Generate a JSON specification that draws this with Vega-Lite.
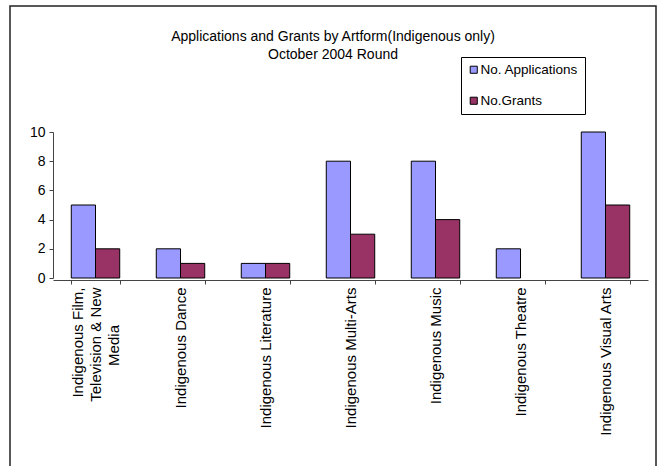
{
  "$schema": "https://vega.github.io/schema/vega-lite/v6.json",
  "autosize": "none",
  "padding": {"left": 10, "top": 6, "right": 5, "bottom": -2},
  "width": 646,
  "height": 462,
  "background": "white",
  "title": {
    "text": ["Applications and Grants by Artform(Indigenous only)", "October 2004 Round"],
    "fontSize": 14,
    "fontWeight": "normal",
    "color": "black",
    "anchor": "middle",
    "frame": "group",
    "lineHeight": 18,
    "dy": 60
  },
  "data": {
    "values": [
      {"artform": "Indigenous Film, Television & New Media", "series": "No. Applications", "count": 5},
      {"artform": "Indigenous Film, Television & New Media", "series": "No.Grants", "count": 2},
      {"artform": "Indigenous Dance", "series": "No. Applications", "count": 2},
      {"artform": "Indigenous Dance", "series": "No.Grants", "count": 1},
      {"artform": "Indigenous Literature", "series": "No. Applications", "count": 1},
      {"artform": "Indigenous Literature", "series": "No.Grants", "count": 1},
      {"artform": "Indigenous Multi-Arts", "series": "No. Applications", "count": 8},
      {"artform": "Indigenous Multi-Arts", "series": "No.Grants", "count": 3},
      {"artform": "Indigenous Music", "series": "No. Applications", "count": 8},
      {"artform": "Indigenous Music", "series": "No.Grants", "count": 4},
      {"artform": "Indigenous Theatre", "series": "No. Applications", "count": 2},
      {"artform": "Indigenous Visual Arts", "series": "No. Applications", "count": 10},
      {"artform": "Indigenous Visual Arts", "series": "No.Grants", "count": 5}
    ]
  },
  "mark": {"type": "bar", "stroke": "black", "strokeWidth": 1},
  "encoding": {
    "x": {
      "field": "artform",
      "type": "nominal",
      "sort": null,
      "scale": {"range": [43, 638], "paddingInner": 0.43, "paddingOuter": 0.215},
      "axis": {
        "title": null,
        "offset": -188,
        "labelAngle": -90,
        "labelFontSize": 15,
        "labelLineHeight": 18,
        "labelColor": "black",
        "labelLimit": 0,
        "labelPadding": 3,
        "labelOffset": {"expr": "datum.value == 'Indigenous Film, Television & New Media' ? -18 : 0"},
        "tickBand": "extent",
        "tickSize": 4,
        "tickColor": "#444",
        "domainColor": "#444",
        "labelExpr": "datum.value == 'Indigenous Film, Television & New Media' ? ['Indigenous Film,', 'Television & New', 'Media\u00a0\u00a0\u00a0\u00a0\u00a0\u00a0\u00a0\u00a0\u00a0\u200b'] : datum.label"
      }
    },
    "xOffset": {"field": "series", "type": "nominal", "sort": ["No. Applications", "No.Grants"]},
    "y": {
      "field": "count",
      "type": "quantitative",
      "scale": {"domain": [0, 10], "range": [272, 126], "nice": false},
      "axis": {
        "title": null,
        "offset": -43,
        "values": [0, 2, 4, 6, 8, 10],
        "grid": false,
        "labelFontSize": 14,
        "labelColor": "black",
        "labelPadding": 4,
        "tickSize": 4,
        "tickColor": "#444",
        "domainColor": "#444"
      }
    },
    "color": {
      "field": "series",
      "type": "nominal",
      "scale": {"domain": ["No. Applications", "No.Grants"], "range": ["#9999FF", "#993366"]},
      "legend": {
        "title": null,
        "orient": "none",
        "legendX": 451,
        "legendY": 51,
        "strokeColor": "black",
        "fillColor": "white",
        "padding": 6,
        "symbolType": "square",
        "symbolSize": 50,
        "symbolStrokeColor": "black",
        "symbolStrokeWidth": 1,
        "symbolOpacity": 1,
        "labelFontSize": 13.5,
        "labelColor": "black",
        "labelOffset": 0,
        "rowPadding": 16
      }
    }
  },
  "config": {
    "font": "Liberation Sans",
    "view": {"stroke": "#222", "strokeWidth": 1.5}
  }
}
